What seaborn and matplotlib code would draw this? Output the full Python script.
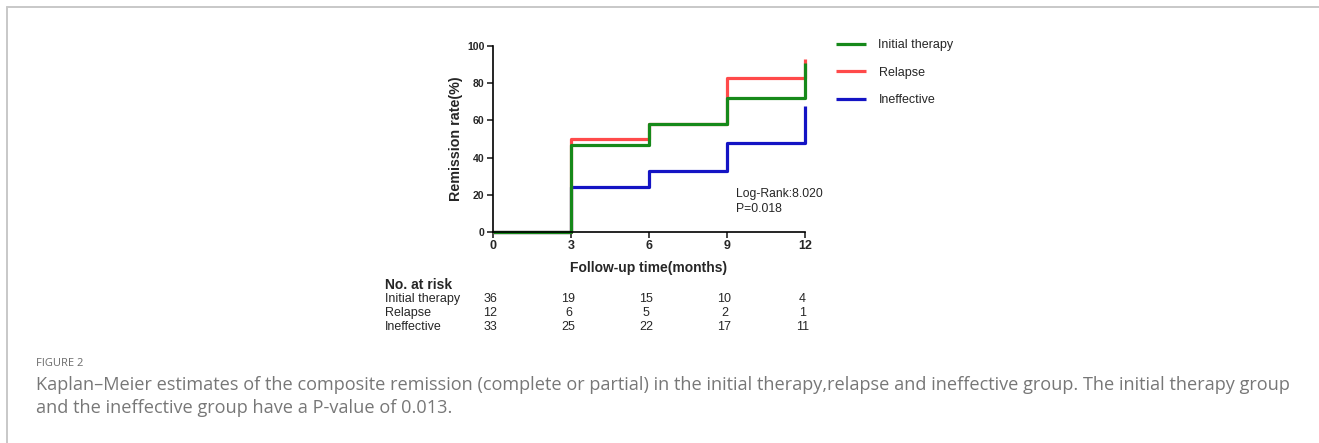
import matplotlib
matplotlib.use("Agg")
import matplotlib.pyplot as plt
import seaborn as sns
import pandas as pd
from matplotlib.lines import Line2D
from matplotlib.transforms import blended_transform_factory

# ---------------- data ----------------
times = [0, 3, 6, 9, 12]
groups = ["Initial therapy", "Relapse", "Ineffective"]
initial_therapy = [0, 47, 58, 72, 91]
relapse = [0, 50, 58, 83, 93]
ineffective = [0, 24, 33, 48, 68]
risk_initial = [36, 19, 15, 10, 4]
risk_relapse = [12, 6, 5, 2, 1]
risk_ineffective = [33, 25, 22, 17, 11]
y_ticks = [0, 20, 40, 60, 80, 100]
x_ticks = [0, 3, 6, 9, 12]
colors = {"Initial therapy": "#16891a", "Relapse": "#ff4a4a", "Ineffective": "#1414c4"}

series = {"Initial therapy": initial_therapy, "Relapse": relapse, "Ineffective": ineffective}
rows = []
for g in ["Ineffective", "Relapse", "Initial therapy"]:  # draw order: green on top
    for t, v in zip(times, series[g]):
        rows.append({"time": t, "rate": v, "group": g})
df = pd.DataFrame(rows)

sns.set_style("white")
plt.rcParams["font.family"] = ["Liberation Sans", "DejaVu Sans"]

W, H = 1319, 443
fig = plt.figure(figsize=(W / 100, H / 100), dpi=100)
fig.patch.set_facecolor("white")

# page frame lines
fig.add_artist(Line2D([6.5 / W, 1], [1 - 6.5 / H, 1 - 6.5 / H], color="#c8c8c8", lw=1.4))
fig.add_artist(Line2D([6.5 / W, 6.5 / W], [0, 1 - 6.5 / H], color="#c8c8c8", lw=1.4))

ax = fig.add_axes([493 / W, 1 - 232 / H, (805 - 493) / W, (232 - 46) / H])
sns.lineplot(data=df, x="time", y="rate", hue="group", palette=colors,
             hue_order=["Ineffective", "Relapse", "Initial therapy"],
             drawstyle="steps-post", lw=2.3, ax=ax, legend=True, clip_on=False)
for ln in ax.lines:
    ln.set_clip_on(False)
    ln.set_solid_capstyle("butt")

ax.set_xlim(0, 12)
ax.set_ylim(0, 100)
ax.set_xticks(x_ticks)
ax.set_yticks(y_ticks)
for s in ["top", "right"]:
    ax.spines[s].set_visible(False)
for s in ["left", "bottom"]:
    ax.spines[s].set_linewidth(1.2)
    ax.spines[s].set_color("black")
ax.tick_params(axis="both", direction="out", length=4, width=1.2, pad=2,
               bottom=True, left=True)
ax.tick_params(axis="x", labelsize=9, pad=2)
ax.tick_params(axis="y", labelsize=7.6)
for lab in ax.get_xticklabels() + ax.get_yticklabels():
    lab.set_fontweight("bold")
ax.set_xlabel("Follow-up time(months)", fontsize=10, fontweight="bold", labelpad=6)
ax.set_ylabel("Remission rate(%)", fontsize=10.3, fontweight="bold", labelpad=3)

ax.text(736 / W, 1 - 194 / H, "Log-Rank:8.020", transform=fig.transFigure,
        fontsize=8.7, va="center", ha="left")
ax.text(736 / W, 1 - 209 / H, "P=0.018", transform=fig.transFigure,
        fontsize=8.7, va="center", ha="left")

# legend
handles, labels = ax.get_legend_handles_labels()
hmap = dict(zip(labels, handles))
ax.get_legend().remove()
fig.legend([hmap[g] for g in groups], groups, loc="upper left",
           bbox_to_anchor=(836 / W, 1 - 39 / H), frameon=False, fontsize=9,
           handlelength=2.4, handletextpad=1.0, labelspacing=1.25,
           borderpad=0, borderaxespad=0)

# number at risk table
fig.text(385 / W, 1 - 285 / H, "No. at risk", fontsize=10, fontweight="bold", va="center")
trans = blended_transform_factory(ax.transData, fig.transFigure)
for name, vals, y in [("Initial therapy", risk_initial, 299),
                      ("Relapse", risk_relapse, 313),
                      ("Ineffective", risk_ineffective, 327)]:
    fig.text(385 / W, 1 - y / H, name, fontsize=9, va="center")
    for t, v in zip(times, vals):
        ax.text(t - 0.1, 1 - y / H, str(v), transform=trans, fontsize=9,
                va="center", ha="center")

# caption
fig.text(36 / W, 1 - 363 / H, "FIGURE 2", fontsize=8, color="#6b6b6b", va="center",
         family=["Open Sans", "DejaVu Sans"])
fig.text(36 / W, 1 - 385 / H,
         "Kaplan\u2013Meier estimates of the composite remission (complete or partial) in the initial therapy,relapse and ineffective group. The initial therapy group",
         fontsize=13.1, color="#777777", va="center", family=["Open Sans", "DejaVu Sans"])
fig.text(36 / W, 1 - 408 / H, "and the ineffective group have a P-value of 0.013.",
         fontsize=13.1, color="#777777", va="center", family=["Open Sans", "DejaVu Sans"])

fig.savefig("out.png", dpi=100, facecolor="white")
